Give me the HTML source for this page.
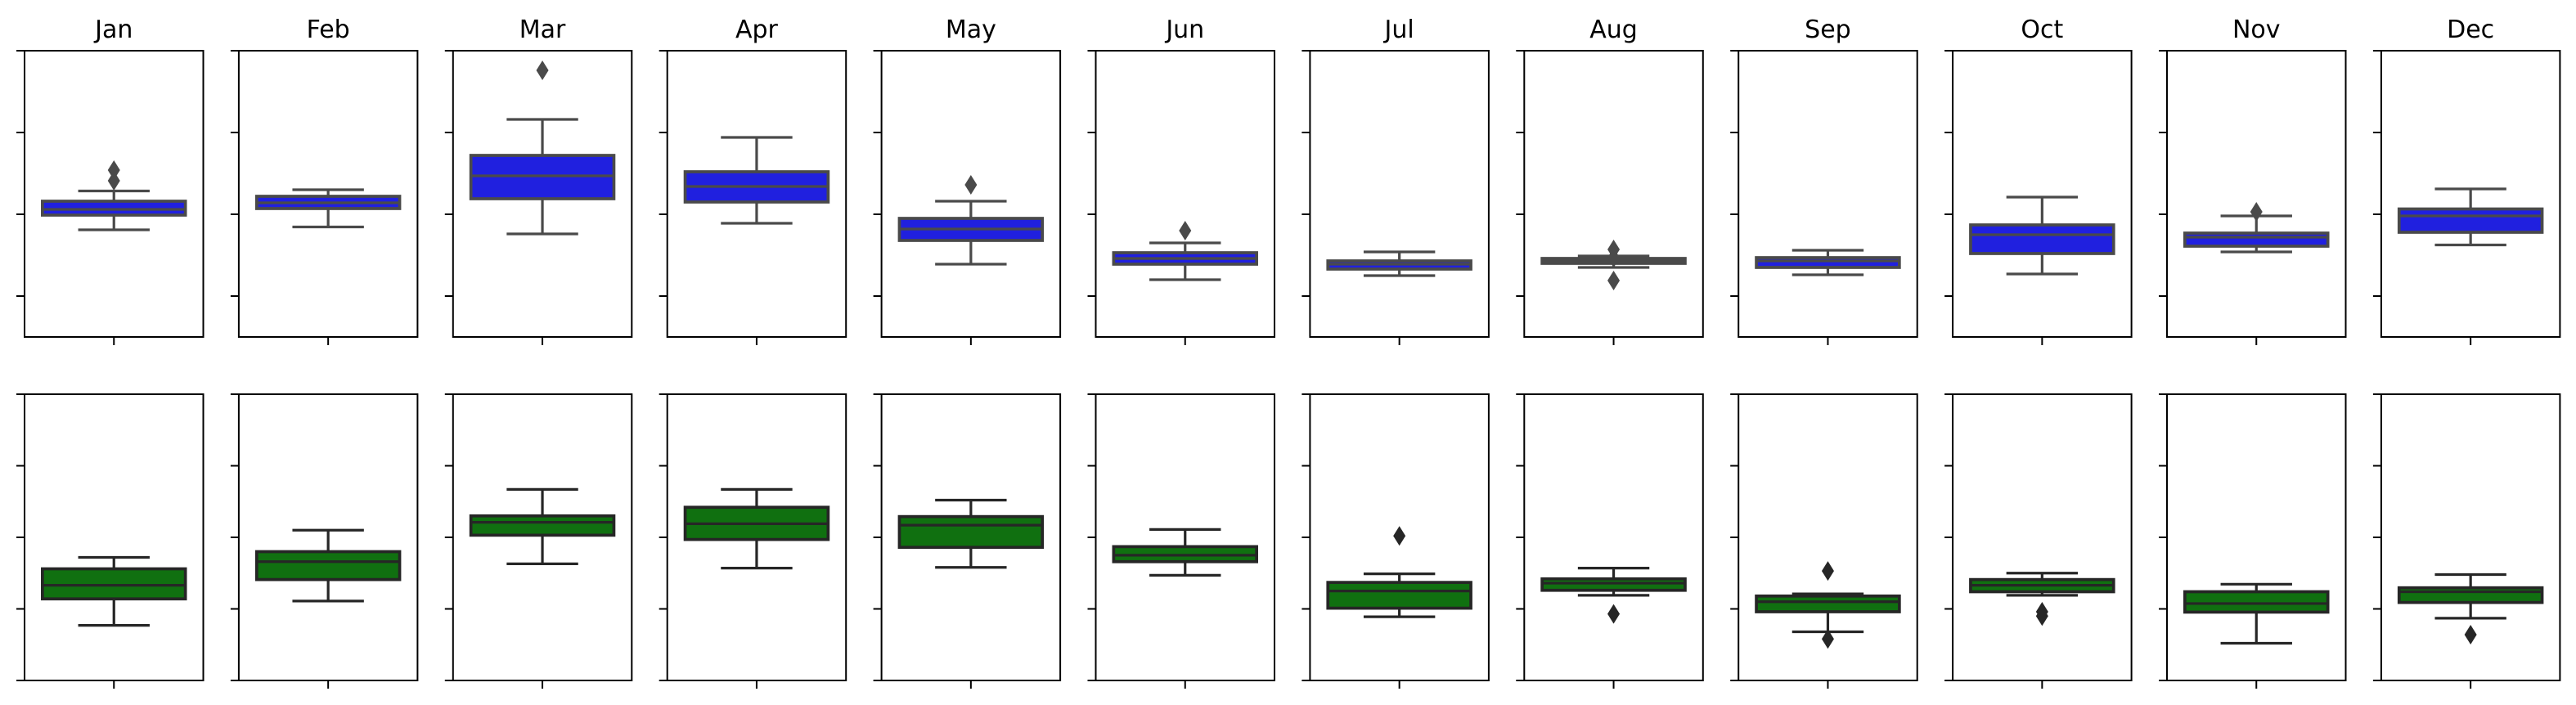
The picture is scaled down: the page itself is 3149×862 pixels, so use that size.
<!DOCTYPE html>
<html><head><meta charset="utf-8"><style>
html,body{margin:0;padding:0;background:#fff;}
svg{display:block;font-family:"DejaVu Sans","Liberation Sans",sans-serif;}
</style></head><body>
<svg id="chart" width="3149" height="862" viewBox="0 0 3149 862" xmlns="http://www.w3.org/2000/svg"></svg>
<script>
const months = ["Jan","Feb","Mar","Apr","May","Jun","Jul","Aug","Sep","Oct","Nov","Dec"];
// top row (blue): [whiskerLow, q1, median, q3, whiskerHigh]
const topStats = [
  [0.81,0.99,1.06,1.16,1.285],
  [0.845,1.07,1.14,1.22,1.30],
  [0.76,1.19,1.47,1.72,2.16],
  [0.89,1.15,1.34,1.52,1.94],
  [0.39,0.68,0.82,0.95,1.16],
  [0.20,0.39,0.46,0.53,0.65],
  [0.25,0.33,0.39,0.43,0.54],
  [0.35,0.40,0.43,0.46,0.49],
  [0.26,0.35,0.43,0.47,0.56],
  [0.27,0.52,0.75,0.87,1.21],
  [0.54,0.61,0.72,0.77,0.98],
  [0.625,0.78,0.98,1.065,1.31]
];
const topOutliers = [[1.41,1.54],[],[2.76],[],[1.36],[0.80],[],[0.57,0.47,0.19],[],[],[1.03],[]];
// bottom row (green)
const botStats = [
  [0.77,1.14,1.33,1.56,1.72],
  [1.11,1.41,1.66,1.80,2.10],
  [1.63,2.03,2.21,2.30,2.67],
  [1.57,1.97,2.19,2.42,2.67],
  [1.58,1.86,2.17,2.29,2.52],
  [1.47,1.66,1.75,1.87,2.11],
  [0.89,1.01,1.25,1.37,1.49],
  [1.19,1.26,1.36,1.42,1.57],
  [0.68,0.96,1.10,1.18,1.21],
  [1.19,1.24,1.33,1.41,1.50],
  [0.52,0.955,1.075,1.24,1.345],
  [0.87,1.09,1.24,1.295,1.48]
];
const botOutliers = [[],[],[],[],[],[],[2.02],[0.93],[1.53,0.58],[0.96,0.90],[],[0.64]];
const topTicks = [0,1,2,3];
const botTicks = [0,1,2,3,4];

const svg = document.getElementById('chart');
const NS = 'http://www.w3.org/2000/svg';
function mk(tag, attrs, parent){
  const e = document.createElementNS(NS, tag);
  for (const k in attrs) e.setAttribute(k, attrs[k]);
  parent.appendChild(e);
  return e;
}
const panelW = 218.5, pitch = 261.9, left0 = 30;
const rows = [
  {top:62, bottom:412, ymin:-0.5, ymax:3, stats:topStats, outs:topOutliers, ticks:topTicks, fill:'#2020df', line:'#4a4a4a', name:'top'},
  {top:482, bottom:832, ymin:0, ymax:4, stats:botStats, outs:botOutliers, ticks:botTicks, fill:'#107010', line:'#262626', name:'bottom'}
];
rows.forEach(r => {
  const yScale = v => r.bottom - (v - r.ymin) / (r.ymax - r.ymin) * (r.bottom - r.top);
  months.forEach((m, i) => {
    const x0 = left0 + i * pitch, x1 = x0 + panelW, cx = (x0 + x1) / 2;
    const g = mk('g', {}, svg);
    
    
    if (r.name === 'top') {
      const t = mk('text', {x:cx, y:46, 'text-anchor':'middle', 'font-size':'30', fill:'#000'}, g);
      t.textContent = m;
      
      
    }
    r.ticks.forEach(tv => {
      const ty = yScale(tv);
      const tk = mk('line', {x1:x0-10, x2:x0, y1:ty, y2:ty, stroke:'#000', 'stroke-width':2}, g);
      
      
    });
    const xt = mk('line', {x1:cx, x2:cx, y1:r.bottom, y2:r.bottom+10, stroke:'#000', 'stroke-width':2}, g);
    
    
    const s = r.stats[i];
    const bx0 = x0 + panelW * 0.1, bx1 = x0 + panelW * 0.9;
    const cx0 = x0 + panelW * 0.3, cx1 = x0 + panelW * 0.7;
    const sw = 3.2;
    const wl = mk('line', {x1:cx, x2:cx, y1:yScale(s[0]), y2:yScale(s[1]), stroke:r.line, 'stroke-width':sw}, g);
    
    
    const wh = mk('line', {x1:cx, x2:cx, y1:yScale(s[3]), y2:yScale(s[4]), stroke:r.line, 'stroke-width':sw}, g);
    
    
    const cl = mk('line', {x1:cx0, x2:cx1, y1:yScale(s[0]), y2:yScale(s[0]), stroke:r.line, 'stroke-width':sw}, g);
    
    
    const ch = mk('line', {x1:cx0, x2:cx1, y1:yScale(s[4]), y2:yScale(s[4]), stroke:r.line, 'stroke-width':sw}, g);
    
    
    const by0 = yScale(s[3]), by1 = yScale(s[1]);
    const box = mk('rect', {x:bx0, y:by0, width:bx1-bx0, height:Math.max(by1-by0,0.5), fill:r.fill, stroke:r.line, 'stroke-width':sw+0.5}, g);
    
    
    const md = mk('line', {x1:bx0, x2:bx1, y1:yScale(s[2]), y2:yScale(s[2]), stroke:r.line, 'stroke-width':sw}, g);
    
    
    r.outs[i].forEach(ov => {
      const oy = yScale(ov);
      const d = mk('polygon', {points:`${cx},${oy-12} ${cx+7.5},${oy} ${cx},${oy+12} ${cx-7.5},${oy}`, fill:r.line}, g);
      
      
    });
    const frame = mk('rect', {x:x0, y:r.top, width:panelW, height:r.bottom-r.top, fill:'none', stroke:'#000', 'stroke-width':2}, g);
    
    
  });
});
</script>
</body></html>
